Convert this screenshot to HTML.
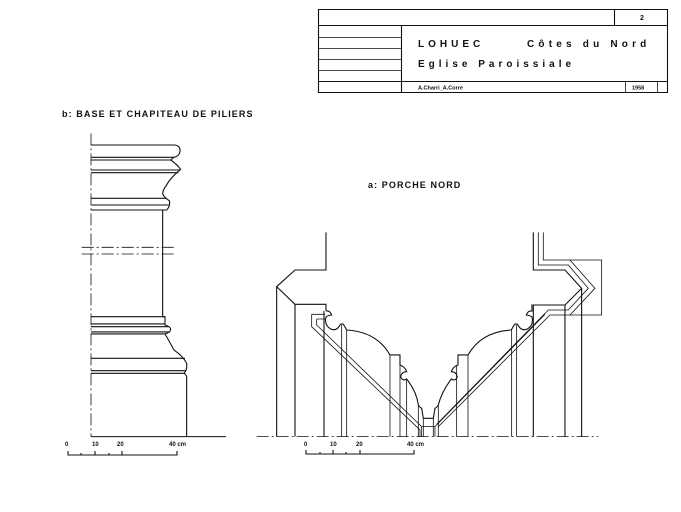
<!DOCTYPE html>
<html><head><meta charset="utf-8"><style>
html,body{margin:0;padding:0;background:#fff;}
svg{display:block}
text{font-family:"Liberation Sans",sans-serif;fill:#111;}
.l{fill:none;stroke:#111;stroke-width:1.1;vector-effect:non-scaling-stroke}
.t{fill:none;stroke:#111;stroke-width:0.8;vector-effect:non-scaling-stroke}
.d{fill:none;stroke:#111;stroke-width:0.8;stroke-dasharray:12 3 2 3;vector-effect:non-scaling-stroke}
</style></head><body>
<svg width="681" height="512" viewBox="0 0 681 512" xmlns="http://www.w3.org/2000/svg">
<!-- title block -->
<rect x="318.5" y="9.5" width="349" height="83" class="l"/>
<line x1="318" y1="25.5" x2="668" y2="25.5" class="l"/>
<line x1="614.5" y1="9" x2="614.5" y2="25" class="l"/>
<line x1="401.5" y1="25" x2="401.5" y2="92" class="l"/>
<line x1="318" y1="37.5" x2="401" y2="37.5" class="t"/>
<line x1="318" y1="48.5" x2="401" y2="48.5" class="t"/>
<line x1="318" y1="59.5" x2="401" y2="59.5" class="t"/>
<line x1="318" y1="70.5" x2="401" y2="70.5" class="t"/>
<line x1="318" y1="81.5" x2="668" y2="81.5" class="l"/>
<line x1="625.5" y1="81" x2="625.5" y2="92" class="t"/>
<line x1="657.5" y1="81" x2="657.5" y2="92" class="t"/>
<text x="640" y="20" font-size="7" font-weight="bold">2</text>
<text x="418" y="47" font-size="10" font-weight="bold" letter-spacing="4">LOHUEC</text>
<text x="527" y="47" font-size="10" font-weight="bold" letter-spacing="4.2">Côtes du Nord</text>
<text x="418" y="67" font-size="10" font-weight="bold" letter-spacing="4">Eglise Paroissiale</text>
<text x="418" y="89.5" font-size="5.5" font-weight="bold">A.Charri_A.Corre</text>
<text x="632" y="89.5" font-size="5.5" font-weight="bold">1958</text>
<text x="62" y="117" font-size="9" font-weight="bold" letter-spacing="1.1">b: BASE ET CHAPITEAU DE PILIERS</text>
<text x="368" y="188" font-size="9" font-weight="bold" letter-spacing="1.1">a: PORCHE NORD</text>

<!-- column -->
<g transform="translate(50,130) scale(0.3333)">
<line x1="123" y1="10" x2="123" y2="920" class="d"/>
<path class="l" d="M123 45 H375 Q392 48 390 65 Q388 78 372 82 L362 90 Q378 100 392 118 Q360 145 350 165 Q338 180 338 192 Q345 205 358 212 Q362 228 350 240 H338 V560 H345 V585 Q362 590 362 598 Q362 606 345 612 Q356 630 372 660 Q400 680 410 700 Q412 720 402 730 Q408 733 410 740 V920"/>
<line x1="123" y1="82" x2="372" y2="82" class="l"/>
<line x1="123" y1="90" x2="362" y2="90" class="l"/>
<line x1="123" y1="120" x2="390" y2="120" class="l"/>
<line x1="123" y1="128" x2="385" y2="128" class="l"/>
<line x1="123" y1="205" x2="350" y2="205" class="l"/>
<line x1="123" y1="225" x2="358" y2="225" class="l"/>
<line x1="123" y1="240" x2="350" y2="240" class="l"/>
<line x1="95" y1="352" x2="375" y2="352" class="d"/>
<line x1="95" y1="372" x2="375" y2="372" class="d"/>
<line x1="123" y1="560" x2="345" y2="560" class="l"/>
<line x1="123" y1="582" x2="345" y2="582" class="l"/>
<line x1="123" y1="590" x2="355" y2="590" class="l"/>
<line x1="123" y1="606" x2="360" y2="606" class="l"/>
<line x1="123" y1="612" x2="345" y2="612" class="l"/>
<line x1="123" y1="685" x2="405" y2="685" class="l"/>
<line x1="123" y1="722" x2="408" y2="722" class="l"/>
<line x1="123" y1="730" x2="402" y2="730" class="l"/>
<line x1="123" y1="920" x2="528" y2="920" class="l"/>
</g>
<!-- column scale -->
<g>
<text x="65" y="446" font-size="6" font-weight="bold">0</text>
<text x="92" y="446" font-size="6" font-weight="bold">10</text>
<text x="117" y="446" font-size="6" font-weight="bold">20</text>
<text x="169" y="446" font-size="6" font-weight="bold">40 cm</text>
<path class="l" d="M68 451 V455 H177 V451 M81 453 V455 M95 451 V455 M109 453 V455 M122 451 V455"/>
</g>

<!-- porch -->
<g transform="translate(250,225) scale(0.3333)">
<line x1="20" y1="635" x2="1045" y2="635" class="d"/>
<path class="l" d="M228 22 V135 H135 L80 185 V635 M80 185 L135 238 H228 V258"/>
<path class="l" d="M135 238 V635 M222 258 V635"/>
<path class="l" d="M228 258 Q240 256 245 270 Q232 272 228 276 Q222 300 242 312 Q260 320 270 300 Q272 295 280 298 Q285 305 290 315 Q380 320 420 390 H450 V420 Q465 425 470 440 Q455 440 452 455 Q458 470 470 462 Q500 500 505 540 Q510 548 515 550 L520 580 H550 L555 550 Q560 548 565 540 Q575 500 604 462 Q616 470 622 455 Q619 440 604 440 Q609 425 624 420 V390 H654 Q694 320 784 315 Q789 305 794 298 Q802 295 804 300 Q814 320 832 312 Q852 300 846 276 Q842 272 829 270 Q834 256 846 258 V238"/>
<path class="t" d="M275 300 V635 M290 315 V635 M420 390 V635 M450 420 V635 M470 462 V635 M505 540 V635 M520 580 V635 M550 580 V635 M565 540 V635 M620 420 V635 M654 390 V635 M785 315 V635 M800 300 V635"/>
<path class="t" d="M185 268 H225 M185 268 V305 L510 615 V635 M200 282 V300 L515 605 H555 M200 282 H225 M515 605 V635 M555 605 V635"/>
<path class="l" d="M850 22 V135 H945 L995 190 L945 240 H850 V258 M945 240 V635 M995 190 V635 M850 258 V635"/>
<path class="t" d="M865 22 V120 H955 L1015 190 L955 255 H895 L560 598 M880 22 V105 H960 L1035 190 L960 270 H900 L565 605 M555 605 L885 268 M950 105 H1055 V270 H950"/>
</g>
<!-- porch scale -->
<g>
<text x="304" y="446" font-size="6" font-weight="bold">0</text>
<text x="330" y="446" font-size="6" font-weight="bold">10</text>
<text x="356" y="446" font-size="6" font-weight="bold">20</text>
<text x="407" y="446" font-size="6" font-weight="bold">40 cm</text>
<path class="l" d="M306 450 V454 H414 V450 M320 452 V454 M333 450 V454 M346 452 V454 M360 450 V454"/>
</g>
</svg>
</body></html>
